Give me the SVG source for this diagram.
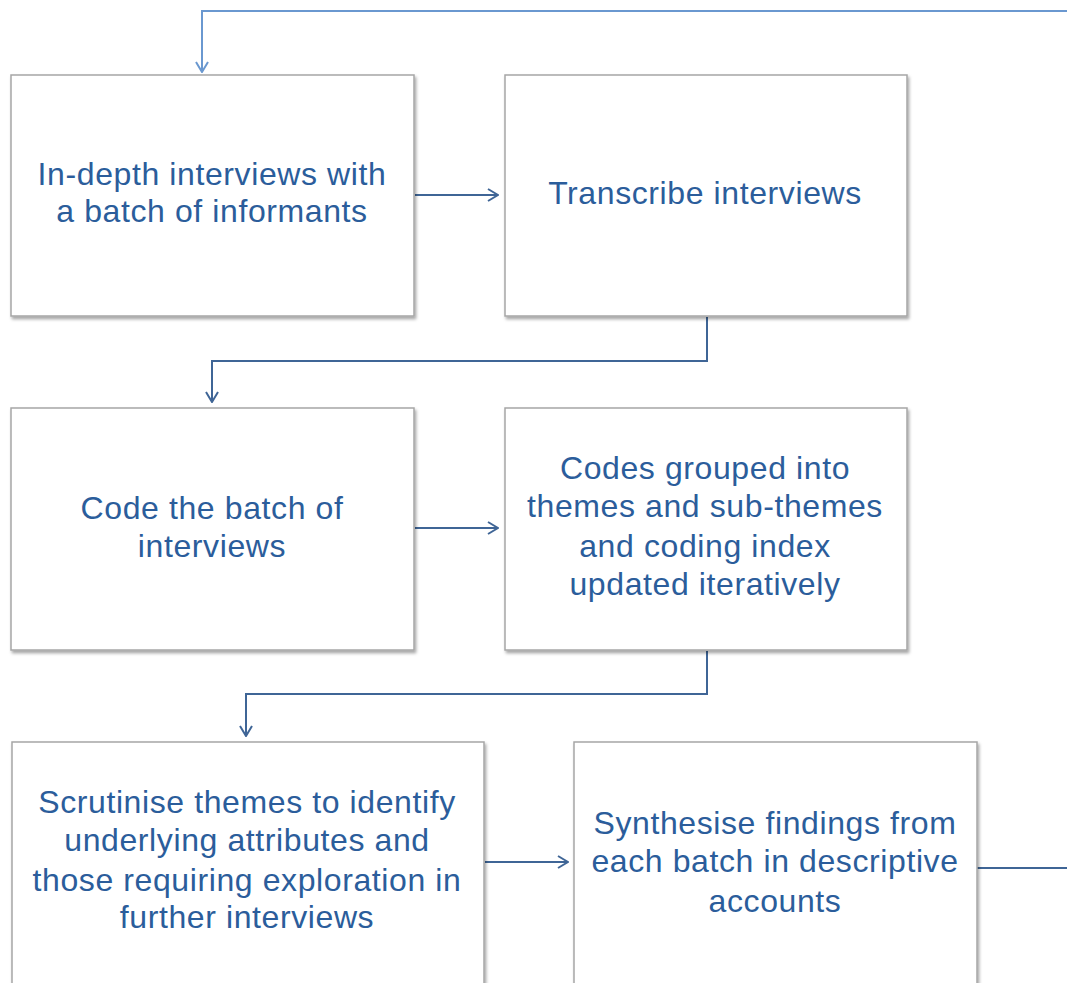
<svg xmlns="http://www.w3.org/2000/svg" width="1067" height="983" viewBox="0 0 1067 983">
  <style>
    .box { fill: #ffffff; stroke: #a6a6a6; stroke-width: 1.5; filter: url(#shadow); }
    .label { font-family: "Liberation Sans", Arial, sans-serif; font-size: 32px; letter-spacing: 0.6px; fill: #2b5d9b; text-anchor: middle; }
    .link { fill: none; stroke: #3f6596; stroke-width: 2; }
    .loop { fill: none; stroke: #6a98d0; stroke-width: 2; }
  </style>
  <defs>
    <filter id="shadow" x="-5%" y="-5%" width="110%" height="112%">
      <feDropShadow dx="1.5" dy="2.5" stdDeviation="1.5" flood-color="#000000" flood-opacity="0.35"/>
    </filter>
    <marker id="open" viewBox="0 0 12 14" refX="11" refY="7" markerWidth="12" markerHeight="14" markerUnits="userSpaceOnUse" orient="auto">
      <path d="M1,1 L11,7 L1,13" fill="none" stroke="#3f6596" stroke-width="2"/>
    </marker>
    <marker id="openLight" viewBox="0 0 12 14" refX="11" refY="7" markerWidth="12" markerHeight="14" markerUnits="userSpaceOnUse" orient="auto">
      <path d="M1,1 L11,7 L1,13" fill="none" stroke="#6a98d0" stroke-width="2"/>
    </marker>
  </defs>

  <rect width="1067" height="983" fill="#ffffff"/>

  <!-- connectors -->
  <g id="connectors">
    <path class="loop" d="M1067,11 L202,11 L202,72" marker-end="url(#openLight)"/>
    <path class="link" d="M415,195 L498,195" marker-end="url(#open)"/>
    <path class="link" d="M707,317 L707,361 L212,361 L212,402" marker-end="url(#open)"/>
    <path class="link" d="M415,528 L498,528" marker-end="url(#open)"/>
    <path class="link" d="M707,651 L707,694 L246,694 L246,736" marker-end="url(#open)"/>
    <path class="link" d="M485,862 L568,862" marker-end="url(#open)"/>
    <path class="link" d="M977,868 L1067,868"/>
  </g>

  <g id="interviews">
    <rect class="box" x="11" y="75" width="403" height="241"/>
    <text class="label" x="212" y="185">In-depth interviews with</text>
    <text class="label" x="212" y="222">a batch of informants</text>
  </g>

  <g id="transcribe">
    <rect class="box" x="505" y="75" width="402" height="241"/>
    <text class="label" x="705" y="204">Transcribe interviews</text>
  </g>

  <g id="code">
    <rect class="box" x="11" y="408" width="403" height="242"/>
    <text class="label" x="212" y="519">Code the batch of</text>
    <text class="label" x="212" y="557">interviews</text>
  </g>

  <g id="themes">
    <rect class="box" x="505" y="408" width="402" height="242"/>
    <text class="label" x="705" y="479">Codes grouped into</text>
    <text class="label" x="705" y="517">themes and sub-themes</text>
    <text class="label" x="705" y="557">and coding index</text>
    <text class="label" x="705" y="595">updated iteratively</text>
  </g>

  <g id="scrutinise">
    <rect class="box" x="12" y="742" width="472" height="250"/>
    <text class="label" x="247" y="813">Scrutinise themes to identify</text>
    <text class="label" x="247" y="851">underlying attributes and</text>
    <text class="label" x="247" y="891">those requiring exploration in</text>
    <text class="label" x="247" y="928">further interviews</text>
  </g>

  <g id="synthesise">
    <rect class="box" x="574" y="742" width="403" height="250"/>
    <text class="label" x="775" y="834">Synthesise findings from</text>
    <text class="label" x="775" y="872">each batch in descriptive</text>
    <text class="label" x="775" y="912">accounts</text>
  </g>
</svg>
